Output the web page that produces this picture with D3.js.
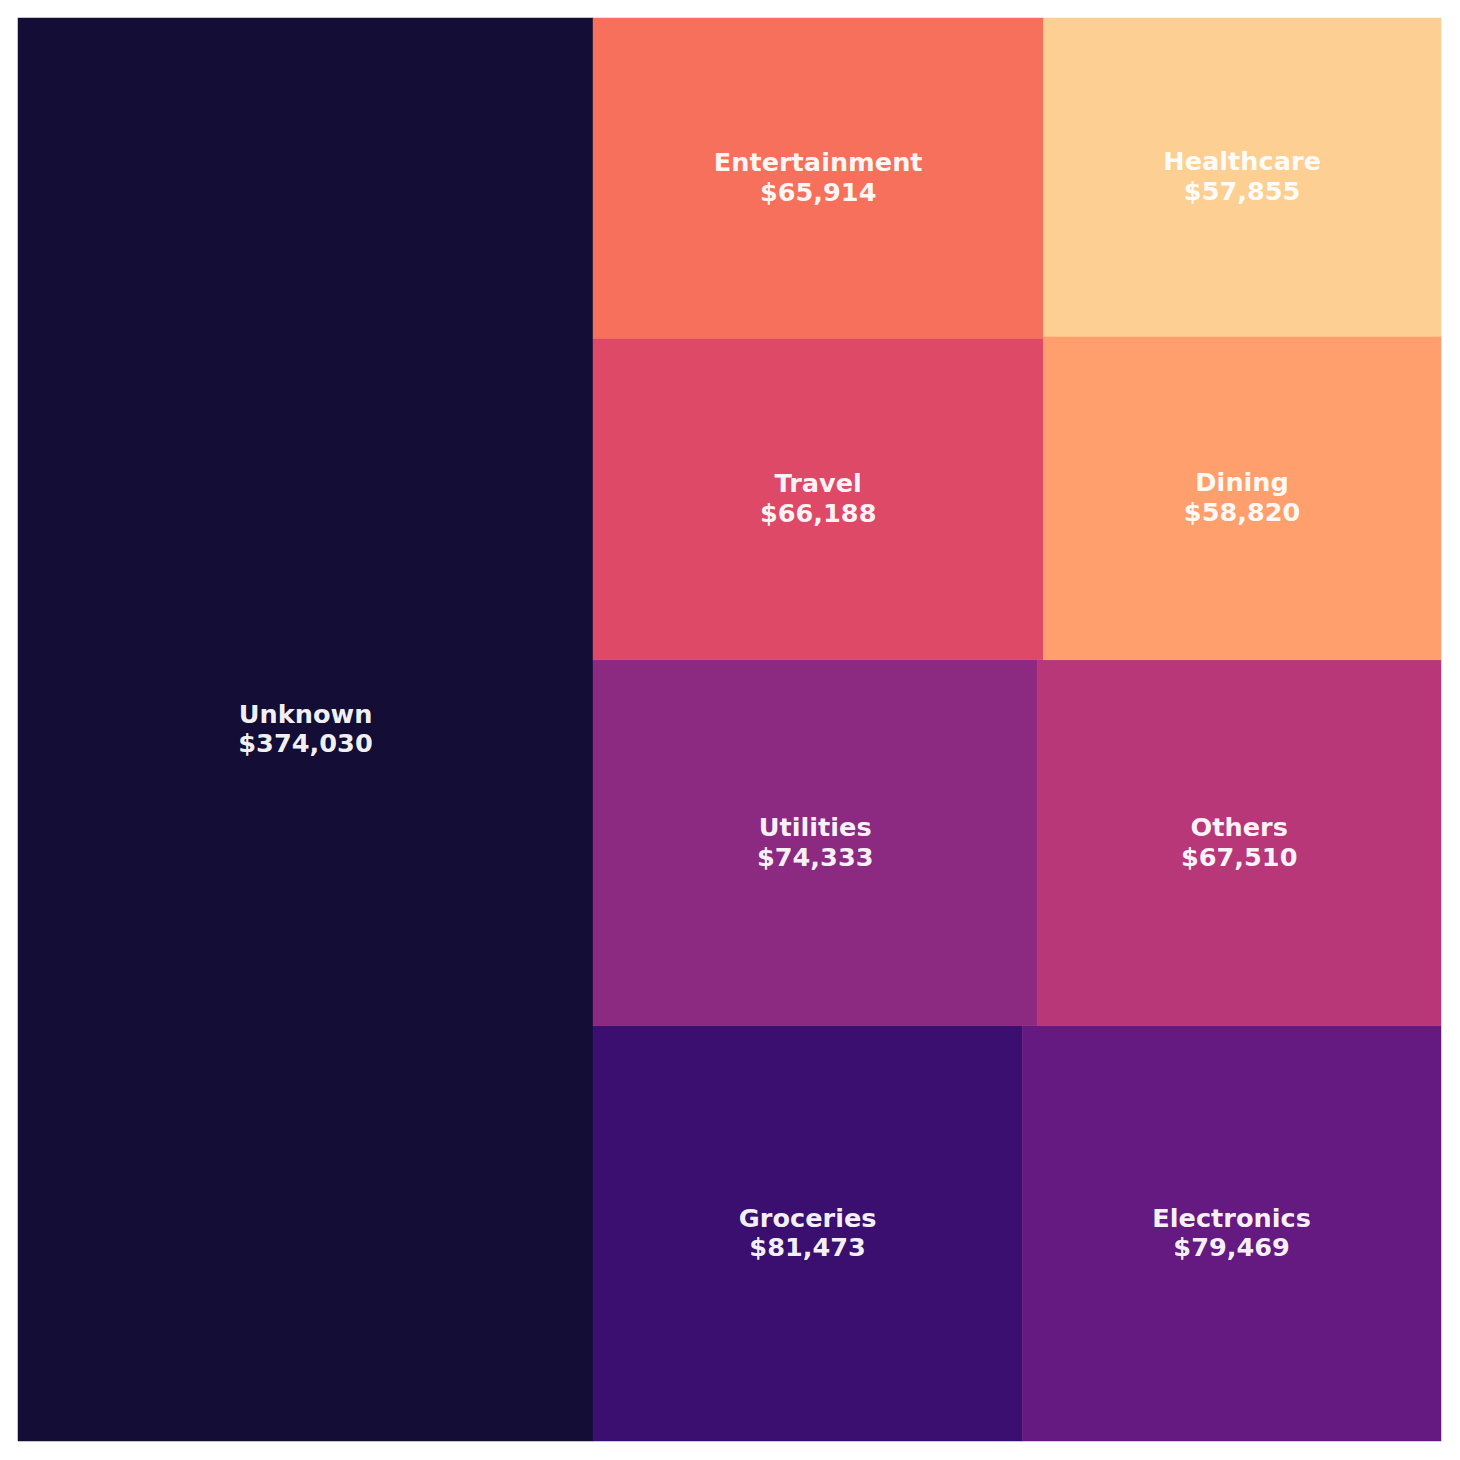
<!DOCTYPE html>
<html>
<head>
<meta charset="utf-8">
<script src="https://cdn.jsdelivr.net/npm/d3@7"></script>
<style>
  html, body { margin: 0; padding: 0; background: #ffffff; }
  svg { display: block; }
</style>
</head>
<body>
<svg id="chart" width="1460" height="1460"></svg>
<script>
// ---- data ----
const categories = ["Unknown", "Groceries", "Electronics", "Utilities", "Others", "Travel", "Entertainment", "Dining", "Healthcare"];
const amounts = [374030, 81473, 79469, 74333, 67510, 66188, 65914, 58820, 57855];

// ---- squarify (same algorithm as python squarify) ----
function normalizeSizes(sizes, dx, dy) {
  const total = d3.sum(sizes);
  return sizes.map(s => s * dx * dy / total);
}
function layoutrow(sizes, x, y, dx, dy) {
  const width = d3.sum(sizes) / dy;
  const rects = [];
  for (const s of sizes) { rects.push({x, y, dx: width, dy: s / width}); y += s / width; }
  return rects;
}
function layoutcol(sizes, x, y, dx, dy) {
  const height = d3.sum(sizes) / dx;
  const rects = [];
  for (const s of sizes) { rects.push({x, y, dx: s / height, dy: height}); x += s / height; }
  return rects;
}
function layout(sizes, x, y, dx, dy) {
  return dx >= dy ? layoutrow(sizes, x, y, dx, dy) : layoutcol(sizes, x, y, dx, dy);
}
function leftover(sizes, x, y, dx, dy) {
  const a = d3.sum(sizes);
  if (dx >= dy) { const w = a / dy; return [x + w, y, dx - w, dy]; }
  const h = a / dx; return [x, y + h, dx, dy - h];
}
function worstRatio(sizes, x, y, dx, dy) {
  return d3.max(layout(sizes, x, y, dx, dy), r => Math.max(r.dx / r.dy, r.dy / r.dx));
}
function squarify(sizes, x, y, dx, dy) {
  if (sizes.length === 0) return [];
  if (sizes.length === 1) return layout(sizes, x, y, dx, dy);
  let i = 1;
  while (i < sizes.length && worstRatio(sizes.slice(0, i), x, y, dx, dy) >= worstRatio(sizes.slice(0, i + 1), x, y, dx, dy)) i++;
  const current = sizes.slice(0, i), remaining = sizes.slice(i);
  const [lx, ly, ldx, ldy] = leftover(current, x, y, dx, dy);
  return layout(current, x, y, dx, dy).concat(squarify(remaining, lx, ly, ldx, ldy));
}

const NX = 100, NY = 100;
const rects = squarify(normalizeSizes(amounts, NX, NY), 0, 0, NX, NY);

// ---- scales ----
const plotLeft = 18, plotRight = 1441, plotTop = 18, plotBottom = 1441;
const xScale = d3.scaleLinear().domain([0, NX]).range([plotLeft, plotRight]);
const yScale = d3.scaleLinear().domain([0, NY]).range([plotBottom, plotTop]);
const color = d3.scaleOrdinal().domain(categories)
  .range(categories.map((c, i) => d3.interpolateMagma(0.1 + 0.8 * i / (categories.length - 1))));

const svg = d3.select("#chart");
const fmt = d3.format(",");
const data = rects.map((r, i) => ({...r, name: categories[i], value: amounts[i]}));

svg.append("g").selectAll("rect").data(data).join("rect")
  .attr("x", d => xScale(d.x))
  .attr("y", d => yScale(d.y + d.dy))
  .attr("width", d => xScale(d.x + d.dx) - xScale(d.x))
  .attr("height", d => yScale(d.y) - yScale(d.y + d.dy))
  .attr("fill", d => color(d.name))
  .attr("stroke", d => color(d.name))
  .attr("stroke-width", 0.5);

const fs = 25.6;
const labels = svg.append("g").selectAll("text").data(data).join("text")
  .attr("text-anchor", "middle")
  .attr("font-family", "DejaVu Sans, sans-serif")
  .attr("font-weight", "bold")
  .attr("font-size", fs + "px")
  .attr("fill", "#ffffff")
  .attr("fill-opacity", 0.96);

labels.append("tspan")
  .attr("x", d => xScale(d.x + d.dx / 2))
  .attr("y", d => yScale(d.y + d.dy / 2) - 0.58 * fs - 1)
  .attr("dominant-baseline", "central")
  .text(d => d.name);
labels.append("tspan")
  .attr("x", d => xScale(d.x + d.dx / 2))
  .attr("y", d => yScale(d.y + d.dy / 2) + 0.58 * fs - 1)
  .attr("dominant-baseline", "central")
  .text(d => "$" + fmt(d.value));
</script>
</body>
</html>
